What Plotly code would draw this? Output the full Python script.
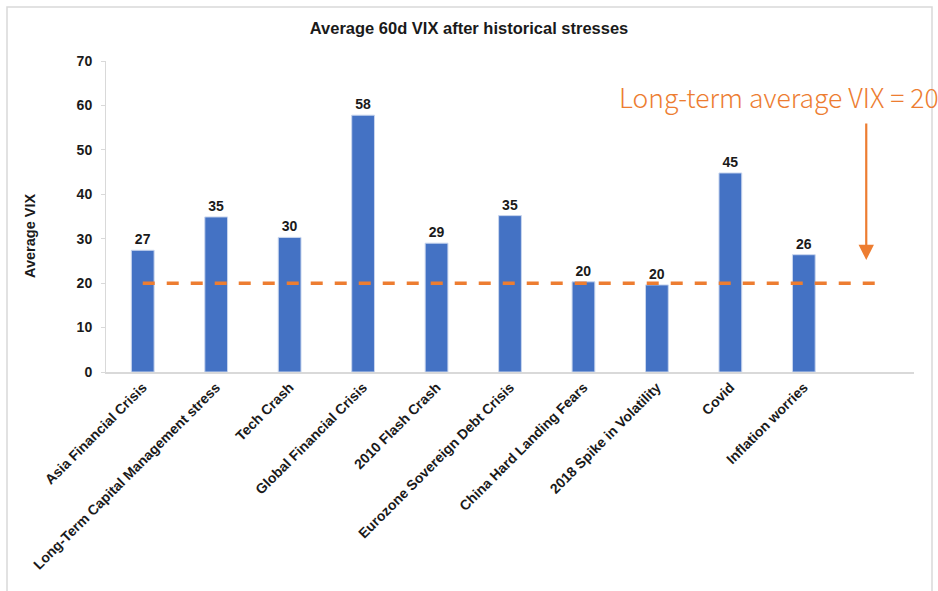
import plotly.graph_objects as go

# Stress episodes and their average 60-day VIX
episodes = [
    "Asia Financial Crisis",
    "Long-Term Capital Management stress",
    "Tech Crash",
    "Global Financial Crisis",
    "2010 Flash Crash",
    "Eurozone Sovereign Debt Crisis",
    "China Hard Landing Fears",
    "2018 Spike in Volatility",
    "Covid",
    "Inflation worries",
]
avg_vix = [27.4, 34.9, 30.3, 57.8, 29.0, 35.2, 20.3, 19.6, 44.8, 26.4]
long_term_avg = 20

# an extra empty slot on the right leaves room for the arrow
slots = episodes + [" "]

BLUE = "#4472C4"
ORANGE = "#ED7D31"
GREY = "#D9D9D9"
FONT = "Arial, Liberation Sans, sans-serif"

W, H = 938, 591
L, R, T, B = 106, 24, 61, 219
pw, ph = W - L - R, H - T - B


def px_x(px):
    return (px - L) / pw


def px_y(py):
    return (H - B - py) / ph


fig = go.Figure()

fig.add_trace(go.Bar(
    x=episodes,
    y=avg_vix,
    marker=dict(color=BLUE, line=dict(color="#C9D6EE", width=1)),
    width=0.31,
    texttemplate="%{y:.0f}",
    textposition="outside",
    textfont=dict(family=FONT, size=14, color="#1a1a1a", weight="bold"),
    cliponaxis=False,
    showlegend=False,
))

fig.add_trace(go.Scatter(
    x=slots,
    y=[long_term_avg] * len(slots),
    mode="lines",
    line=dict(color=ORANGE, width=3.5, dash="12px,12px"),
    showlegend=False,
))

fig.update_layout(
    width=W, height=H,
    margin=dict(l=L, r=R, t=T, b=B),
    paper_bgcolor="white",
    plot_bgcolor="white",
    title=dict(
        text="Average 60d VIX after historical stresses",
        x=469 / W, xanchor="center",
        y=1 - 28 / H, yanchor="middle",
        font=dict(family=FONT, size=16.5, color="#1a1a1a", weight="bold"),
    ),
    xaxis=dict(
        type="category",
        categoryorder="array",
        categoryarray=slots,
        range=[-0.5, len(slots) - 0.5],
        showline=True, linecolor=GREY, linewidth=1.5,
        ticks="",
        showgrid=False,
        tickangle=-45,
        tickfont=dict(family=FONT, size=14, color="#1a1a1a", weight="bold"),
    ),
    yaxis=dict(
        range=[0, 70],
        dtick=10,
        showline=True, linecolor=GREY, linewidth=1,
        ticks="outside", ticklen=4, tickcolor=GREY,
        showgrid=False,
        zeroline=False,
        ticklabelstandoff=6,
        tickfont=dict(family=FONT, size=14, color="#1a1a1a", weight="bold"),
    ),
    shapes=[
        dict(
            type="rect", xref="paper", yref="paper",
            x0=px_x(7), x1=px_x(932),
            y0=px_y(620), y1=px_y(7),
            line=dict(color=GREY, width=1.5),
            fillcolor="rgba(0,0,0,0)",
            layer="below",
        )
    ],
    annotations=[
        dict(
            text="Average VIX",
            xref="paper", yref="paper",
            x=px_x(30), y=px_y(236),
            xanchor="center", yanchor="middle",
            textangle=-90, showarrow=False,
            font=dict(family=FONT, size=14.5, color="#1a1a1a", weight="bold"),
        ),
        dict(
            text="Long-term average VIX = 20",
            xref="paper", yref="paper",
            x=px_x(779), y=px_y(97),
            xanchor="center", yanchor="middle",
            showarrow=False,
            font=dict(family="Noto Sans CJK JP", size=26.5, color=ORANGE, weight=300),
        ),
        dict(
            text="",
            xref="x", yref="y",
            x=9.85, y=25.2,
            ax=0, ay=-138,
            showarrow=True,
            arrowhead=2, arrowsize=1.4, arrowwidth=2.2,
            arrowcolor=ORANGE,
        ),
    ],
)

fig.write_html("out.html")
